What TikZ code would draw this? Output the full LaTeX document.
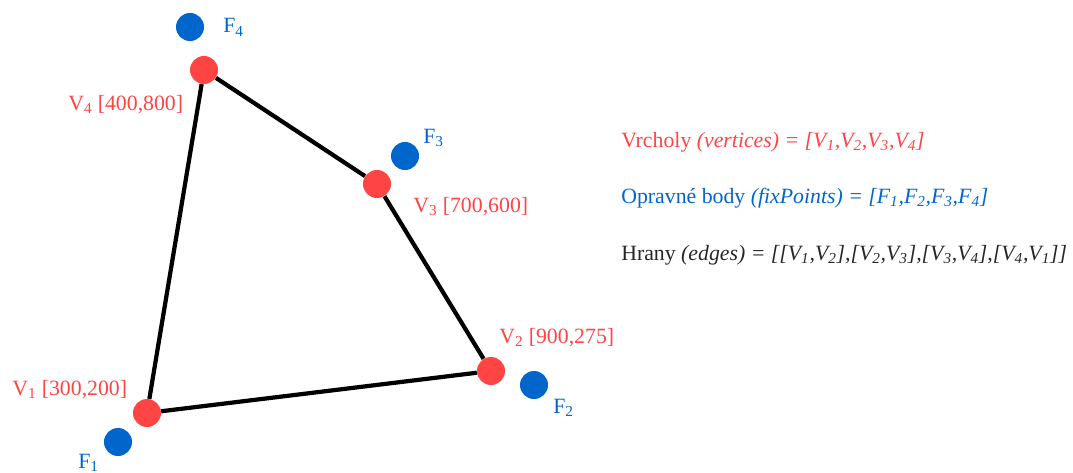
\documentclass[tikz,border=0pt]{standalone}
\usepackage{fontspec}
\setmainfont{Liberation Serif}
\definecolor{cervena}{HTML}{FF4444}
\definecolor{modra}{HTML}{0066CC}
\newcommand{\sbs}[1]{\textsubscript{#1}}
\tikzset{
  vrch/.style={circle,fill=cervena,inner sep=0pt,minimum size=0.7cm},
  bod/.style={circle,fill=modra,inner sep=0pt,minimum size=0.7cm},
  hrana/.style={black,line width=3pt},
  popis/.style={anchor=base west,inner sep=0pt,font=\fontsize{15.5}{18}\selectfont},
}
\begin{document}
\begin{tikzpicture}[x=0.025cm,y=-0.025cm]
  \useasboundingbox (0,0) rectangle (1073,473);
  % vrcholy a opravne body
  \node[vrch] (v1) at (147,413) {};
  \node[vrch] (v2) at (491,371) {};
  \node[vrch] (v3) at (377,184) {};
  \node[vrch] (v4) at (204,70) {};
  \node[bod] (f1) at (118,442) {};
  \node[bod] (f2) at (534,385) {};
  \node[bod] (f3) at (405,156) {};
  \node[bod] (f4) at (190,27) {};
  % hrany
  \draw[hrana] (v1) -- (v2) -- (v3) -- (v4) -- (v1);
  % popisky
  \node[popis,cervena] (p1) at (12,395) {V\sbs{1} [300,200]};
  \node[popis,cervena] (p2) at (499,343) {V\sbs{2} [900,275]};
  \node[popis,cervena] (p3) at (413,212) {V\sbs{3} [700,600]};
  \node[popis,cervena] (p4) at (68,110) {V\sbs{4} [400,800]};
  \node[popis,modra] (q1) at (78,468) {F\sbs{1}};
  \node[popis,modra] (q2) at (553,413) {F\sbs{2}};
  \node[popis,modra] (q3) at (423,143) {F\sbs{3}};
  \node[popis,modra] (q4) at (223,33) {F\sbs{4}};
  % legenda
  \node[popis,cervena] (l1) at (621,147) {Vrcholy \textit{(vertices) = [V\sbs{1},V\sbs{2},V\sbs{3},V\sbs{4}]}};
  \node[popis,modra] (l2) at (621,203) {Opravné body \textit{(fixPoints) = [F\sbs{1},F\sbs{2},F\sbs{3},F\sbs{4}]}};
  \node[popis,black!85] (l3) at (621,260) {Hrany \textit{(edges) = [[V\sbs{1},V\sbs{2}],[V\sbs{2},V\sbs{3}],[V\sbs{3},V\sbs{4}],[V\sbs{4},V\sbs{1}]]}};
\end{tikzpicture}
\end{document}
